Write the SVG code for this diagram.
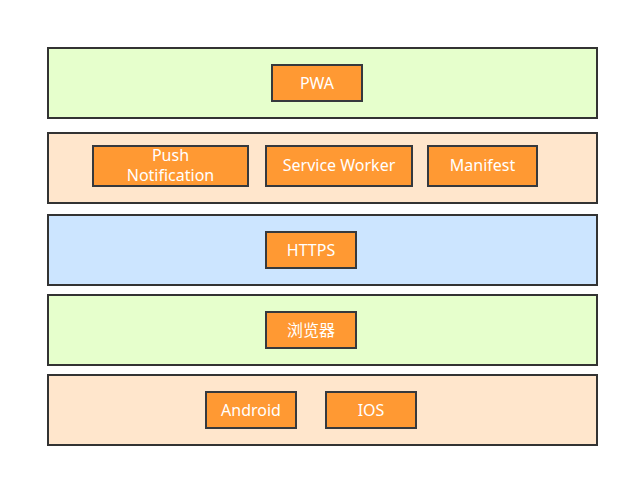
<svg xmlns="http://www.w3.org/2000/svg" width="629" height="477" viewBox="0 0 629 477">
<style>
.layer{stroke:#333333;stroke-width:2}
.g{fill:#e6ffcc}.p{fill:#ffe6cc}.b{fill:#cce5ff}
.box{fill:#ff9933;stroke:#36393d;stroke-width:2}
text{font-family:"Noto Sans","Noto Sans CJK SC",sans-serif;font-size:16px;fill:#ffffff;text-anchor:middle;dominant-baseline:central}
</style>
<rect width="629" height="477" fill="#ffffff"/>
<g id="layer1"><rect class="layer g" x="48" y="48" width="549" height="70"/></g>
<g id="layer2"><rect class="layer p" x="48" y="133" width="549" height="70"/></g>
<g id="layer3"><rect class="layer b" x="48" y="215" width="549" height="70"/></g>
<g id="layer4"><rect class="layer g" x="48" y="295" width="549" height="70"/></g>
<g id="layer5"><rect class="layer p" x="48" y="375" width="549" height="70"/></g>
<g id="pwa"><rect class="box" x="272" y="65" width="90" height="36"/><text x="317" y="83">PWA</text></g>
<g id="push"><rect class="box" x="93" y="146" width="155" height="40"/><text x="170.5" y="155">Push</text><text x="170.5" y="175">Notification</text></g>
<g id="sw"><rect class="box" x="266" y="146" width="146" height="40"/><text x="339" y="165">Service Worker</text></g>
<g id="manifest"><rect class="box" x="428" y="146" width="109" height="40"/><text x="482.5" y="165">Manifest</text></g>
<g id="https"><rect class="box" x="266" y="232" width="90" height="36"/><text x="311" y="250">HTTPS</text></g>
<g id="browser"><rect class="box" x="266" y="312" width="90" height="36"/><text x="311" y="330">浏览器</text></g>
<g id="android"><rect class="box" x="206" y="392" width="90" height="36"/><text x="251" y="410">Android</text></g>
<g id="ios"><rect class="box" x="326" y="392" width="90" height="36"/><text x="371" y="410">IOS</text></g>
<g id="connectors"></g>
</svg>
